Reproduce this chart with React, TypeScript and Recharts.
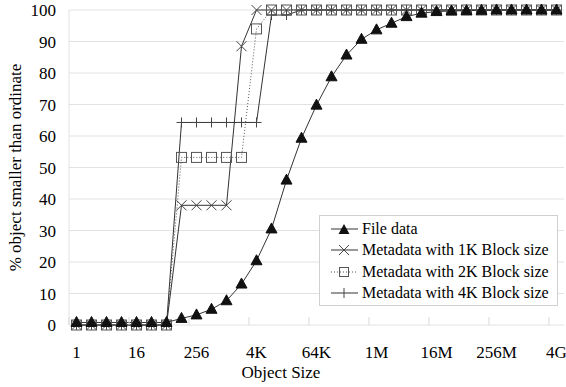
import React from "react";
import { LineChart, Line, XAxis, YAxis, CartesianGrid, Legend } from "recharts";

const objectSizes = [
  "1", "2", "4", "8", "16", "32", "64", "128", "256", "512",
  "1K", "2K", "4K", "8K", "16K", "32K", "64K", "128K", "256K", "512K",
  "1M", "2M", "4M", "8M", "16M", "32M", "64M", "128M", "256M", "512M",
  "1G", "2G", "4G",
];

const fileData = [
  0.8, 0.8, 0.8, 0.8, 0.8, 0.8, 0.8, 2.1, 3.2, 5, 7.7, 13, 20.4, 30.5, 46, 59.3, 69.8,
  78.8, 85.7, 90.7, 93.7, 95.8, 97.9, 99, 99.5, 99.7, 99.8, 99.9, 100, 100, 100, 100, 100,
];
const meta1K = [
  0, 0, 0, 0, 0, 0, 0, 38, 38, 38, 38, 88.5, 100, 100, 100, 100, 100,
  100, 100, 100, 100, 100, 100, 100, 100, 100, 100, 100, 100, 100, 100, 100, 100,
];
const meta2K = [
  0, 0, 0, 0, 0, 0, 0, 53.2, 53.2, 53.2, 53.2, 53.2, 94, 100, 100, 100, 100,
  100, 100, 100, 100, 100, 100, 100, 100, 100, 100, 100, 100, 100, 100, 100, 100,
];
const meta4K = [
  0, 0, 0, 0, 0, 0, 0, 64.3, 64.3, 64.3, 64.3, 64.3, 64.3, 98.4, 98.4, 100, 100,
  100, 100, 100, 100, 100, 100, 100, 100, 100, 100, 100, 100, 100, 100, 100, 100,
];
const yTicks = [0, 10, 20, 30, 40, 50, 60, 70, 80, 90, 100];

const seriesNames = [
  "File data",
  "Metadata with 1K Block size",
  "Metadata with 2K Block size",
  "Metadata with 4K Block size",
];

const rows = objectSizes.map((size, i) => ({
  size,
  file: fileData[i],
  m1k: meta1K[i],
  m2k: meta2K[i],
  m4k: meta4K[i],
}));

const FONT = '"Liberation Serif", "Times New Roman", serif';
const textStyle = { fontFamily: FONT, fontSize: 17 };

const triangle = (cx: number, cy: number) =>
  `M${cx},${cy - 6} L${cx + 5.5},${cy + 4} L${cx - 5.5},${cy + 4} Z`;

const TriangleDot = (p: any) =>
  p.cx == null ? null : <path key={p.index} d={triangle(p.cx, p.cy)} fill="#111" stroke="#111" />;

const CrossDot = (p: any) =>
  p.cx == null ? null : (
    <path
      key={p.index}
      d={`M${p.cx - 5},${p.cy - 5} L${p.cx + 5},${p.cy + 5} M${p.cx - 5},${p.cy + 5} L${p.cx + 5},${p.cy - 5}`}
      stroke="#444"
      strokeWidth={1}
      fill="none"
    />
  );

const SquareDot = (p: any) =>
  p.cx == null ? null : (
    <rect key={p.index} x={p.cx - 5} y={p.cy - 5} width={10} height={10} fill="none" stroke="#555" strokeWidth={1} />
  );

const PlusDot = (p: any) =>
  p.cx == null ? null : (
    <path
      key={p.index}
      d={`M${p.cx},${p.cy - 5} L${p.cx},${p.cy + 5} M${p.cx - 5},${p.cy} L${p.cx + 5},${p.cy}`}
      stroke="#444"
      strokeWidth={1}
      fill="none"
    />
  );

const XTick = (props: any) => {
  const { x, y, payload } = props;
  return (
    <g>
      <line x1={x - 7.5} x2={x - 7.5} y1={y - 8} y2={y} stroke="#d8d8d8" />
      <text x={x} y={y + 33} textAnchor="middle" fill="#000" style={textStyle}>
        {payload.value}
      </text>
    </g>
  );
};

const YTick = (props: any) => {
  const { x, y, payload } = props;
  return (
    <text x={x} y={y} dy="0.36em" textAnchor="end" fill="#000" style={textStyle}>
      {payload.value}
    </text>
  );
};

const legendIcon = (i: number) => {
  const c = 16;
  const m = 10;
  if (i === 0)
    return (
      <>
        <line x1={3} x2={30} y1={m} y2={m} stroke="#333" />
        <path d={triangle(c, m + 1)} fill="#111" />
      </>
    );
  if (i === 1)
    return (
      <>
        <line x1={3} x2={30} y1={m} y2={m} stroke="#333" />
        <path d={`M${c - 5},${m - 5} L${c + 5},${m + 5} M${c - 5},${m + 5} L${c + 5},${m - 5}`} stroke="#444" />
      </>
    );
  if (i === 2)
    return (
      <>
        <line x1={3} x2={30} y1={m} y2={m} stroke="#555" strokeDasharray="1 2" />
        <rect x={c - 4.5} y={m - 4.5} width={9} height={9} fill="none" stroke="#555" />
      </>
    );
  return (
    <>
      <line x1={3} x2={30} y1={m} y2={m} stroke="#333" />
      <line x1={c} x2={c} y1={m - 5} y2={m + 5} stroke="#444" />
    </>
  );
};

const renderLegend = () => (
  <div
    style={{
      border: "1px solid #d0d0d0",
      background: "#fff",
      paddingTop: 2,
      paddingBottom: 1,
      boxSizing: "border-box",
      width: 239,
    }}
  >
    {seriesNames.map((name, i) => (
      <div key={name} style={{ display: "flex", alignItems: "center", height: 21.5 }}>
        <svg width={32} height={20} style={{ marginLeft: 8 }}>
          {legendIcon(i)}
        </svg>
        <span style={{ marginLeft: 2, fontSize: 16, fontFamily: FONT, color: "#000", whiteSpace: "nowrap" }}>
          {name}
        </span>
      </div>
    ))}
  </div>
);

const App = () => (
  <div style={{ position: "absolute", left: 0, top: 0, background: "#fff" }}>
    <LineChart width={566} height={387} data={rows} margin={{ top: 10, right: 2, bottom: 0, left: 0 }}>
      <CartesianGrid vertical={false} stroke="#e2e2e2" />
      <XAxis
        dataKey="size"
        interval={3}
        padding={{ left: 7.5, right: 7.5 }}
        height={62}
        tickSize={0}
        tickMargin={0}
        axisLine={false}
        tickLine={false}
        tick={<XTick />}
        label={() => (
          <text x={281} y={378} textAnchor="middle" fill="#000" style={textStyle}>
            Object Size
          </text>
        )}
      />
      <YAxis
        domain={[0, 100]}
        ticks={yTicks}
        width={69}
        tickSize={0}
        tickMargin={13}
        axisLine={{ stroke: "#e2e2e2" }}
        tickLine={false}
        tick={<YTick />}
        label={() => (
          <text transform="translate(21,167.5) rotate(-90)" textAnchor="middle" fill="#000" style={textStyle}>
            % object smaller than ordinate
          </text>
        )}
      />
      <Legend
        layout="vertical"
        align="center"
        verticalAlign="middle"
        content={renderLegend}
        wrapperStyle={{ left: 319, top: 215, width: 239 }}
      />
      <Line dataKey="m4k" name={seriesNames[3]} stroke="#333" strokeWidth={1} dot={PlusDot} isAnimationActive={false} />
      <Line
        dataKey="m2k"
        name={seriesNames[2]}
        stroke="#555"
        strokeWidth={1}
        strokeDasharray="1 2"
        dot={SquareDot}
        isAnimationActive={false}
      />
      <Line dataKey="m1k" name={seriesNames[1]} stroke="#333" strokeWidth={1} dot={CrossDot} isAnimationActive={false} />
      <Line dataKey="file" name={seriesNames[0]} stroke="#333" strokeWidth={1} dot={TriangleDot} isAnimationActive={false} />
    </LineChart>
  </div>
);

export default App;
